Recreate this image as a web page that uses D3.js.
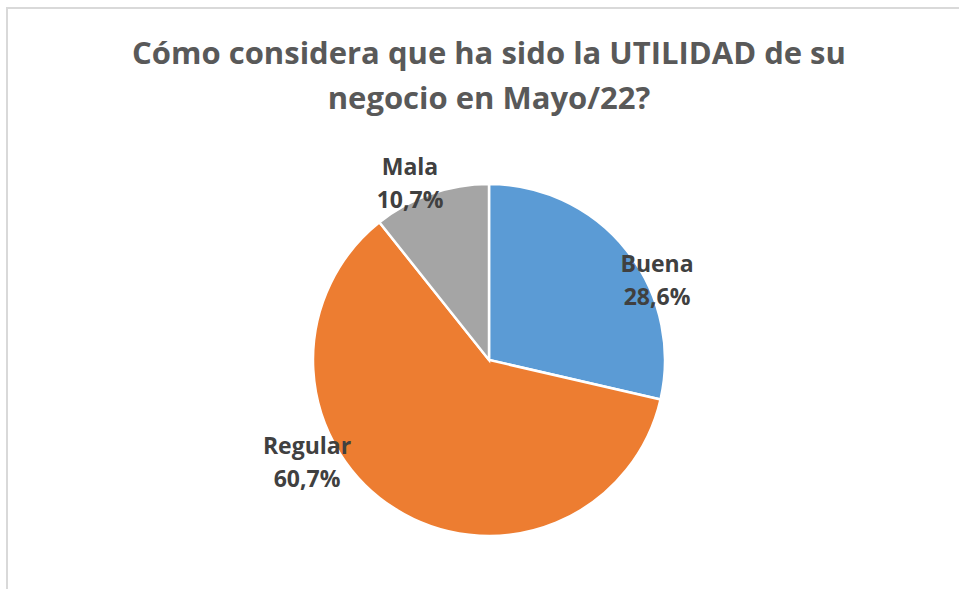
<!DOCTYPE html>
<head>
    <meta charset="utf-8">
    <script src="https://d3js.org/d3.v7.min.js"></script>
    <style>
        body { margin: 0; background: #fff; }
        text { font-family: "Open Sans", sans-serif; font-weight: 700; }
        text.title { font-size: 31px; fill: #595959; }
        text.label { font-size: 23px; fill: #404040; }
    </style>
</head>
<body>
<div id="chart"></div>
<script>
    // data
    const categories = ["Buena", "Regular", "Mala"];
    const values = [28.6, 60.7, 10.7];
    const colours = ["#5B9BD5", "#ED7D31", "#A5A5A5"];
    const titleLines = ["Cómo considera que ha sido la UTILIDAD de su", "negocio en Mayo/22?"];

    const width = 959, height = 589;
    const cx = 489, cy = 360, radius = 176;

    const svg = d3.select("#chart").append("svg")
        .attr("width", width)
        .attr("height", height);

    // chart area border (runs off the right and bottom edges)
    svg.append("rect")
        .attr("x", 7).attr("y", 8)
        .attr("width", width + 10).attr("height", height + 10)
        .style("fill", "#fff")
        .style("stroke", "#d9d9d9")
        .style("stroke-width", 2);

    svg.selectAll("text.title")
        .data(titleLines)
        .enter()
        .append("text")
        .attr("class", "title")
        .attr("x", 489)
        .attr("y", (d, i) => 64 + i * 45)
        .style("text-anchor", "middle")
        .text(d => d);

    const pie = d3.pie().sort(null).value(d => d)(values);
    const arc = d3.arc().innerRadius(0).outerRadius(radius);

    const g = svg.append("g").attr("transform", `translate(${cx},${cy})`);

    g.selectAll("path.slice")
        .data(pie)
        .enter()
        .append("path")
        .attr("class", "slice")
        .attr("d", arc)
        .style("fill", (d, i) => colours[i])
        .style("stroke", "#fff")
        .style("stroke-width", 2.5);

    // best-fit style label placement, offsets from the pie centre
    const labelOffset = [[168, -80], [-182, 102], [-79, -177]];
    const fmt = v => d3.format(".1f")(v).replace(".", ",") + "%";

    const labels = g.selectAll("text.label")
        .data(pie)
        .enter()
        .append("text")
        .attr("class", "label")
        .style("text-anchor", "middle")
        .attr("transform", (d, i) => `translate(${labelOffset[i][0]},${labelOffset[i][1]})`);

    labels.append("tspan")
        .attr("x", 0).attr("dy", "-0.35em")
        .text((d, i) => categories[i]);
    labels.append("tspan")
        .attr("x", 0).attr("dy", "1.45em")
        .text(d => fmt(d.data));
</script>
</body>
